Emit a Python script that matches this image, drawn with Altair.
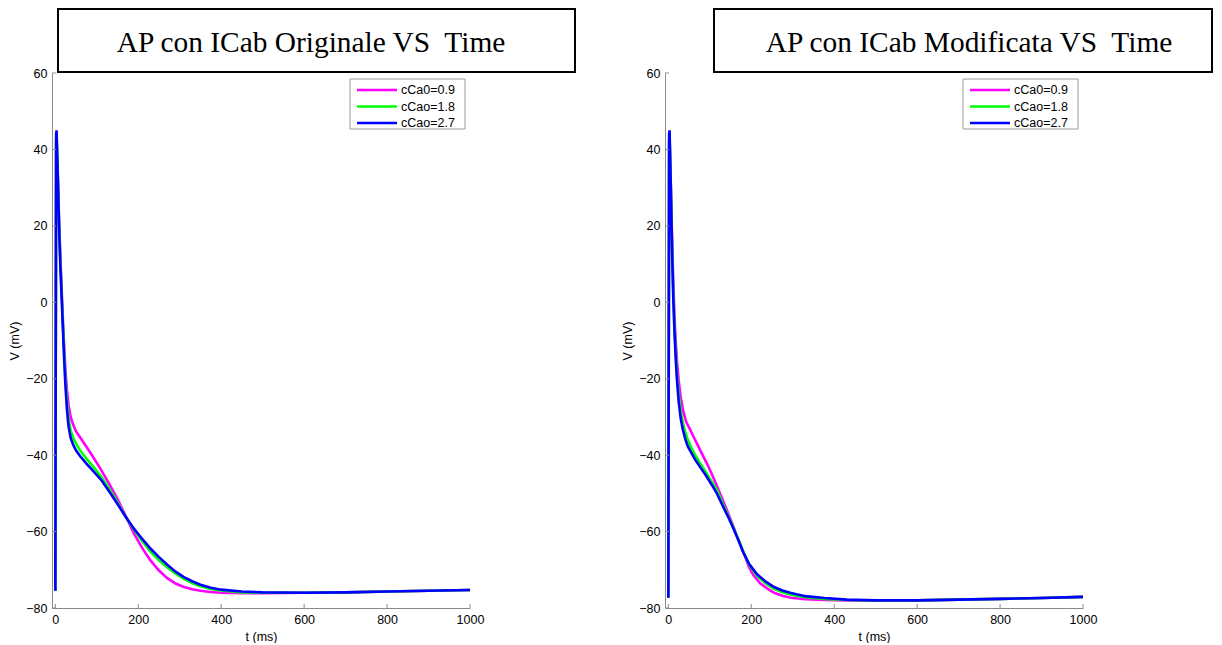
import altair as alt
import pandas as pd

# ---------------- data ----------------
SERIES = ["cCa0=0.9", "cCao=1.8", "cCao=2.7"]
COLORS = ["#ff00ff", "#00ff00", "#0000ff"]
X_TICKS = [0, 200, 400, 600, 800, 1000]
Y_TICKS = [-80, -60, -40, -20, 0, 20, 40, 60]
TITLES = ["AP con ICab Originale VS  Time", "AP con ICab Modificata VS  Time"]

# Panel 1: ICab originale
T_ORIG_09 = [0, 2, 3, 6, 9, 12, 15, 18, 21, 24, 28, 32, 37, 43, 50, 60, 75, 90, 110, 130, 150, 170, 190, 210,
             230, 250, 270, 290, 310, 330, 350, 375, 400, 450, 500, 600, 700, 800, 900, 1000]
V_ORIG_09 = [-75.5, 42, 43, 33, 22, 12, 4, -4, -11, -17, -23, -27, -30, -32, -33.8, -35.4, -37.8, -40.3, -43.8,
             -47.5, -51.5, -56, -60.6, -64.4, -67.6, -70.2, -72.2, -73.6, -74.5, -75.1, -75.5, -75.8, -76,
             -76.1, -76.1, -76, -75.9, -75.7, -75.5, -75.3]
T_ORIG_18 = T_ORIG_09
V_ORIG_18 = [-75.5, 43, 44, 33, 21, 11, 3, -5, -12.5, -19.5, -26, -30.5, -33.5, -35.5, -37, -38.8, -40.9, -42.8,
             -45.5, -48.8, -52.4, -56.2, -59.5, -62.6, -65.3, -67.5, -69.4, -71, -72.4, -73.5, -74.3, -75,
             -75.4, -75.9, -76, -76, -75.9, -75.7, -75.5, -75.3]
T_ORIG_27 = T_ORIG_09
V_ORIG_27 = [-75.5, 44, 45, 33, 20, 10, 2, -6, -14, -21, -28, -32.5, -35.5, -37.3, -38.8, -40.3, -42.2, -44,
             -46.4, -49.5, -52.8, -56.2, -59.3, -62, -64.5, -66.7, -68.7, -70.5, -71.9, -73, -73.9, -74.7,
             -75.2, -75.7, -75.9, -76, -75.9, -75.7, -75.5, -75.3]

# Panel 2: ICab modificata
T_MOD_09 = [0, 2, 3, 6, 9, 12, 15, 18, 21, 25, 30, 36, 43, 51, 60, 70, 80, 95, 105, 117, 130, 145, 158, 170,
            177, 185, 195, 205, 222, 240, 255, 275, 296, 330, 377, 430, 500, 600, 700, 800, 900, 1000]
V_MOD_09 = [-77.3, 42, 43, 31, 17, 5, -4, -10.5, -15.5, -20.5, -25, -28.5, -31.3, -33, -35, -37.2, -39.4,
            -42.6, -45, -48, -51.4, -55.4, -59, -62.5, -64.5, -66.5, -69.4, -71.4, -73.6, -75, -76, -76.8,
            -77.3, -77.7, -77.9, -78, -78, -78, -77.8, -77.6, -77.4, -77.1]
T_MOD_18 = [0, 2, 3, 6, 9, 12, 15, 18, 21, 25, 30, 35, 41, 47, 55, 65, 76, 90, 105, 117, 130, 145, 157, 170,
            181, 195, 214, 235, 255, 275, 296, 330, 377, 430, 500, 600, 700, 800, 900, 1000]
V_MOD_18 = [-77.3, 43, 44, 30.5, 15, 2, -7, -13.5, -19, -24, -28.5, -31.5, -34, -36, -38, -40, -42, -44.3,
            -47, -49, -52.4, -56, -59, -62.3, -65.3, -68.7, -71.6, -73.6, -75, -75.9, -76.5, -77.2,
            -77.6, -77.9, -78, -78, -77.8, -77.6, -77.4, -77.1]
T_MOD_27 = [0, 2, 3, 6, 9, 12, 15, 18, 21, 25, 30, 35, 41, 47, 55, 65, 76, 90, 105, 117, 130, 145, 157, 170,
            181, 195, 214, 235, 255, 275, 296, 330, 377, 430, 500, 600, 700, 800, 900, 1000]
V_MOD_27 = [-77.3, 44, 45, 30, 14, 1, -8, -15, -20.5, -26, -30.5, -33.3, -35.8, -37.7, -39.3, -41.2, -43,
            -45.2, -47.8, -50, -53, -56.3, -59.2, -62.5, -65.5, -68.5, -71.2, -73.1, -74.5, -75.4, -76.1,
            -76.9, -77.4, -77.8, -78, -78, -77.8, -77.6, -77.4, -77.1]

PANELS = [
    [(T_ORIG_09, V_ORIG_09), (T_ORIG_18, V_ORIG_18), (T_ORIG_27, V_ORIG_27)],
    [(T_MOD_09, V_MOD_09), (T_MOD_18, V_MOD_18), (T_MOD_27, V_MOD_27)],
]

# ---------------- style ----------------
W, H = 418, 535
AXIS_GREY = "#8a8a8a"
SANS = "Liberation Sans"
SERIF = "Liberation Serif"
FS = 12.5


def make_panel(idx):
    rows = []
    for name, (ts, vs) in zip(SERIES, PANELS[idx]):
        for t, v in zip(ts, vs):
            rows.append({"t": t, "V": v, "series": name})
    df = pd.DataFrame(rows)

    xs = alt.Scale(domain=[-8, 1000], nice=False, zero=False)
    ys = alt.Scale(domain=[-80, 60], nice=False, zero=False)
    xaxis = alt.Axis(values=X_TICKS, format="d", title="t (ms)", ticks=False, labelPadding=5,
                     titlePadding=5, labelFlush=False, grid=False)
    yaxis = alt.Axis(values=Y_TICKS, format="d", title="V (mV)", ticks=False, labelPadding=5,
                     titlePadding=4, grid=False)
    X = alt.X("t:Q", scale=xs, axis=xaxis)
    Y = alt.Y("V:Q", scale=ys, axis=yaxis)

    lines = alt.Chart(df).mark_line(strokeWidth=2.6).encode(
        x=X, y=Y,
        color=alt.Color("series:N", scale=alt.Scale(domain=SERIES, range=COLORS), legend=None),
    )
    xt = alt.Chart(pd.DataFrame({"t": X_TICKS})).mark_rule(color=AXIS_GREY, strokeWidth=1).encode(
        x=X, y=alt.value(H), y2=alt.value(H - 4))
    yt = alt.Chart(pd.DataFrame({"V": Y_TICKS})).mark_rule(color=AXIS_GREY, strokeWidth=1).encode(
        y=Y, x=alt.value(0), x2=alt.value(4))

    one = pd.DataFrame({"k": [0]})
    # title box
    if idx == 0:
        bx1, bx2, tx = 6, 523, 259
    else:
        bx1, bx2, tx = 49, 547, 304
    tbox = alt.Chart(one).mark_rect(fill="white", stroke="black", strokeWidth=2).encode(
        x=alt.value(bx1), x2=alt.value(bx2), y=alt.value(-64), y2=alt.value(-1))
    shown = TITLES[idx].replace("  ", "\u00a0 ")
    ttext = alt.Chart(one).mark_text(font=SERIF, fontSize=29.4, color="black", align="center",
                                     baseline="alphabetic").encode(
        x=alt.value(tx), y=alt.value(-21), text=alt.value(shown))

    # legend
    lbox = alt.Chart(one).mark_rect(fill="white", stroke="#9a9a9a", strokeWidth=1).encode(
        x=alt.value(298), x2=alt.value(413), y=alt.value(6), y2=alt.value(56))
    leg = [lbox]
    for i, (name, col) in enumerate(zip(SERIES, COLORS)):
        yy = 17 + 16.5 * i
        leg.append(alt.Chart(one).mark_rule(color=col, strokeWidth=2.6).encode(
            x=alt.value(305), x2=alt.value(345), y=alt.value(yy)))
        leg.append(alt.Chart(one).mark_text(font=SANS, fontSize=FS, color="black", align="left",
                                            baseline="middle").encode(
            x=alt.value(349), y=alt.value(yy), text=alt.value(name)))

    return alt.layer(lines, xt, yt, tbox, ttext, *leg).properties(width=W, height=H)


chart = alt.hconcat(make_panel(0), make_panel(1), spacing=45).properties(
    padding=0
).configure_view(stroke=None).configure_axis(
    domainColor=AXIS_GREY, domainWidth=1,
    labelColor="black", labelFont=SANS, labelFontSize=FS,
    titleColor="black", titleFont=SANS, titleFontSize=FS, titleFontWeight="normal",
)

chart.save("out.html", embed_options={"renderer": "svg", "actions": False})
